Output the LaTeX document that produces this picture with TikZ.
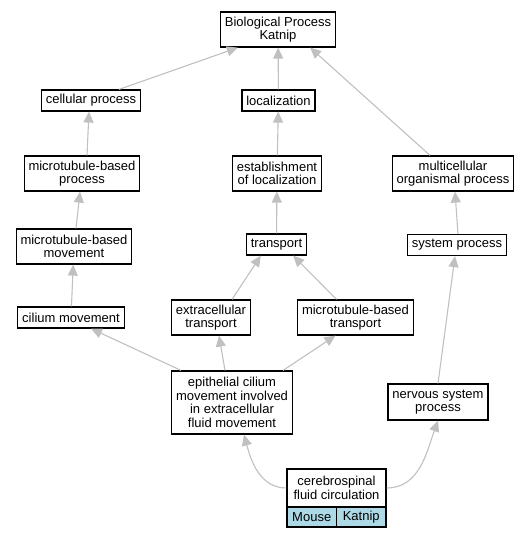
\documentclass[tikz,border=0pt]{standalone}
\usepackage{fontspec}
\setmainfont{Liberation Sans}
\usetikzlibrary{arrows.meta,calc}
\begin{document}
\begin{tikzpicture}[x=1pt,y=-1pt,
  term/.style={draw=black,line width=1.2pt,fill=white,align=center,inner xsep=4.4pt,inner ysep=1pt,
    font=\fontsize{13}{13.5}\selectfont},
  cell/.style={draw=black,line width=1.2pt,fill=lightblue,inner sep=0pt,
    font=\fontsize{13}{13.5}\selectfont},
  edge/.style={draw=edgegray,line width=1.1pt,-{Triangle[length=11pt,width=10pt,fill=edgegray]}}]
\definecolor{edgegray}{HTML}{C0C0C0}
\definecolor{lightblue}{HTML}{ADD8E6}
\useasboundingbox (0,0) rectangle (531,539);
\node[term,minimum height=35pt] (bp) at (278,29.5) {Biological Process\\Katnip};
\node[term,minimum height=21pt] (cp) at (91,100.5) {cellular process};
\node[term,minimum height=21pt] (loc) at (278.5,100.5) {localization};
\node[term,minimum height=35pt] (mbp) at (82,173.5) {microtubule-based\\process};
\node[term,minimum height=35pt] (est) at (277,173.5) {establishment\\of localization};
\node[term,minimum height=35pt] (mop) at (453,173.5) {multicellular\\organismal process};
\node[term,minimum height=35pt] (mbm) at (74,246.5) {microtubule-based\\movement};
\node[term,minimum height=21pt] (tr) at (276.5,244.5) {transport};
\node[term,minimum height=21pt] (sp) at (457,245) {system process};
\node[term,minimum height=21pt] (cm) at (71,317.5) {cilium movement};
\node[term,minimum height=35pt] (et) at (211,317.5) {extracellular\\transport};
\node[term,minimum height=35pt] (mbt) at (355.5,317.5) {microtubule-based\\transport};
\node[term,minimum height=63pt] (epi) at (232,402.5) {epithelial cilium\\movement involved\\in extracellular\\fluid movement};
\node[term,minimum height=36pt] (nsp) at (438,402) {nervous system\\process};
\node[term,minimum width=99pt,minimum height=38pt] (csf) at (336.5,488) {cerebrospinal\\fluid circulation};
\node[cell,minimum width=49.5pt,minimum height=20pt] (mouse) at (311.75,517) {Mouse};
\node[cell,minimum width=49.5pt,minimum height=20pt] (katnip) at (361.25,517) {Katnip};
% edges
\draw[edge] ($(cp.north)+(28,0)$) -- ($(bp.south west)+(18,0)$);
\draw[edge] (loc) -- (bp);
\draw[edge] ($(mop.north)+(-23,0)$) -- ($(bp.south east)+(-26,0)$);
\draw[edge] ($(mbp.north)+(5,0)$) -- ($(cp.south)+(-2,0)$);
\draw[edge] (est) -- (loc);
\draw[edge] (mbm) -- (mbp);
\draw[edge] (tr) -- (est);
\draw[edge] ($(sp.north)+(1,0)$) -- ($(mop.south)+(2,0)$);
\draw[edge] (cm) -- (mbm);
\draw[edge] ($(et.north)+(21,0)$) -- ($(tr.south west)+(15,0)$);
\draw[edge] ($(mbt.north)+(-19,0)$) -- ($(tr.south east)+(-14,0)$);
\draw[edge] ($(epi.north west)+(10,0)$) -- ($(cm.south)+(20,0)$);
\draw[edge] ($(epi.north)+(-7,0)$) -- ($(et.south)+(8,0)$);
\draw[edge] ($(epi.north east)+(-10,0)$) -- ($(mbt.south)+(-20,0)$);
\draw[edge] (nsp.north) -- ($(sp.south)+(-2,0)$);
\draw[edge] (csf.west) to[out=180,in=-75] ($(epi.south)+(12,0)$);
\draw[edge] (csf.east) to[out=0,in=-110] (nsp.south);
\end{tikzpicture}
\end{document}
